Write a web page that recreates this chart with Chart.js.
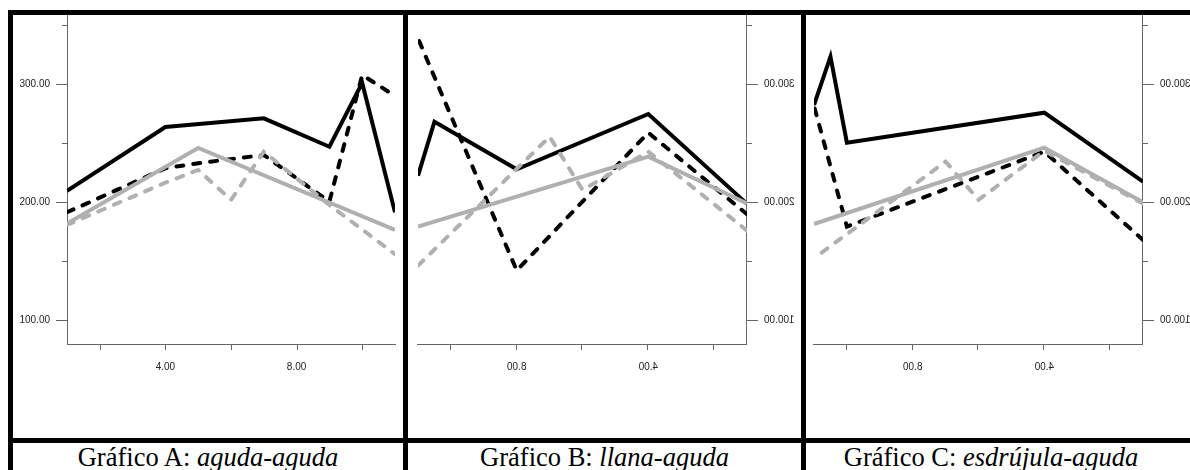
<!DOCTYPE html>
<html lang="es">

<head>
    <meta charset="UTF-8">
    <title>Gráficos A, B, C</title>
    <style>
        body { margin: 0; width: 1190px; height: 470px; overflow: hidden; background: #fff; position: relative; }
        .bar { position: absolute; background: #000; }
        canvas { position: absolute; top: 15px; }
        .flip { transform: scaleX(-1); }
        .cap { position: absolute; top: 444px; font-family: "Liberation Serif", "Times New Roman", serif; font-size: 26.5px; line-height: 26px; text-align: center; white-space: nowrap; color: #000; }
    </style>
</head>

<body>
    <div class="bar" style="left:8px; top:10px; width:1182px; height:5px;"></div>
    <div class="bar" style="left:8px; top:438px; width:1182px; height:5px;"></div>
    <div class="bar" style="left:8px; top:10px; width:5px; height:460px;"></div>
    <div class="bar" style="left:403px; top:10px; width:5px; height:460px;"></div>
    <div class="bar" style="left:801px; top:10px; width:5px; height:460px;"></div>

    <canvas id="chartA" width="390" height="423" style="left:13px;"></canvas>
    <canvas id="chartB" class="flip" width="393" height="423" style="left:408px;"></canvas>
    <canvas id="chartC" class="flip" width="391" height="423" style="left:806px;"></canvas>

    <div class="cap" style="left:13px; width:390px;">Gráfico A: <i>aguda-aguda</i></div>
    <div class="cap" style="left:408px; width:393px;">Gráfico B: <i>llana-aguda</i></div>
    <div class="cap" style="left:806px; width:370px;">Gráfico C: <i>esdrújula-aguda</i></div>

    <script src="https://cdn.jsdelivr.net/npm/chart.js"></script>
    <script type="text/javascript">
        // tick positions and labels
        const xTicks = [2, 4, 6, 8, 10];
        const xLabels = [4, 8];
        const yTicks = [100, 150, 200, 250, 300, 350];
        const yLabels = [100, 200, 300];

        // Gráfico A: aguda-aguda
        const aBlackX = [1, 4, 7, 9, 10, 11];
        const aBlack = [209.6, 263.7, 271, 247, 301, 191.5];
        const aBlackDashX = [1, 4, 5, 7, 9, 10, 11];
        const aBlackDash = [191.5, 228.8, 233, 240, 200.5, 307.7, 290];
        const aGrayX = [1, 5, 11];
        const aGray = [182, 246, 176.6];
        const aGrayDashX = [1, 4, 5, 6, 7, 9, 11];
        const aGrayDash = [180.8, 216.6, 227.3, 202, 242.8, 197.7, 156];

        // Gráfico B: llana-aguda
        const bBlackX = [1, 4, 8, 10.5, 11];
        const bBlack = [198.6, 274.7, 227.9, 268.2, 222.5];
        const bBlackDashX = [1, 4, 8, 11];
        const bBlackDash = [189.8, 258.9, 142.2, 338.7];
        const bGrayX = [1, 4, 11];
        const bGray = [199, 238.6, 179.4];
        const bGrayDashX = [1, 4, 6, 7, 11];
        const bGrayDash = [176, 242.8, 210.4, 255.5, 146.4];

        // Gráfico C: esdrújula-aguda
        const cBlackX = [1, 4, 10, 10.5, 11];
        const cBlack = [217.4, 275.8, 250.4, 323.2, 282.3];
        const cBlackDashX = [1, 4, 10, 11];
        const cBlackDash = [168.1, 242.8, 179.4, 281.5];
        const cGrayX = [1, 4, 11];
        const cGray = [200, 246.2, 181.6];
        const cGrayDashX = [1, 4, 6, 7, 11];
        const cGrayDash = [199, 243.5, 202, 234.4, 152.6];

        const gray = '#b0b0b0';
        const axisColor = '#666';

        function pts(xs, ys) {
            return xs.map((x, i) => ({ x: x, y: ys[i] }));
        }

        function line(xs, ys, color, dashed) {
            return {
                data: pts(xs, ys),
                borderColor: color,
                borderWidth: 4,
                borderDash: dashed ? [7, 10] : [],
                borderCapStyle: dashed ? 'round' : 'butt',
                borderJoinStyle: 'miter',
                pointRadius: 0,
                tension: 0,
                fill: false
            };
        }

        // short tick marks, longer on labelled y values
        const tickMarks = {
            id: 'tickMarks',
            afterDraw(chart) {
                const ctx = chart.ctx;
                const x = chart.scales.x;
                const y = chart.scales.y;
                ctx.save();
                ctx.strokeStyle = axisColor;
                ctx.lineWidth = 1;
                ctx.beginPath();
                x.ticks.forEach(t => {
                    const px = Math.round(x.getPixelForValue(t.value)) + 0.5;
                    ctx.moveTo(px, x.top);
                    ctx.lineTo(px, x.top + 6);
                });
                y.ticks.forEach(t => {
                    const py = Math.round(y.getPixelForValue(t.value)) + 0.5;
                    const len = yLabels.includes(t.value) ? 11 : 5;
                    ctx.moveTo(y.right, py);
                    ctx.lineTo(y.right - len, py);
                });
                ctx.stroke();
                ctx.restore();
            }
        };

        function makeChart(id, series, rightPad) {
            const ctx = document.getElementById(id);
            return new Chart(ctx, {
                type: 'line',
                data: {
                    datasets: [
                        line(series[6], series[7], gray, true),
                        line(series[4], series[5], gray, false),
                        line(series[2], series[3], '#000', true),
                        line(series[0], series[1], '#000', false)
                    ]
                },
                options: {
                    responsive: false,
                    animation: false,
                    layout: { autoPadding: false, padding: { left: 0, right: rightPad, top: 0, bottom: 0 } },
                    plugins: { legend: { display: false }, tooltip: { enabled: false } },
                    scales: {
                        x: {
                            type: 'linear',
                            min: 1,
                            max: 11,
                            afterBuildTicks: s => { s.ticks = xTicks.map(v => ({ value: v })); },
                            afterFit: s => { s.height = 94; s.paddingTop = 0; s.paddingBottom = 0; },
                            grid: { display: false, drawTicks: false },
                            border: { display: true, color: axisColor, width: 1 },
                            ticks: {
                                autoSkip: false,
                                maxRotation: 0,
                                padding: 17,
                                color: '#222',
                                font: { family: 'Liberation Sans', size: 10 },
                                callback: v => xLabels.includes(v) ? v.toFixed(2) : ''
                            }
                        },
                        y: {
                            min: 80,
                            max: 358.5,
                            afterBuildTicks: s => { s.ticks = yTicks.map(v => ({ value: v })); },
                            afterFit: s => { s.width = 54; s.paddingTop = 0; s.paddingBottom = 0; },
                            grid: { display: false, drawTicks: false },
                            border: { display: true, color: axisColor, width: 1 },
                            ticks: {
                                autoSkip: false,
                                padding: 17,
                                color: '#222',
                                font: { family: 'Liberation Sans', size: 10 },
                                callback: v => yLabels.includes(v) ? v.toFixed(2) : ''
                            }
                        }
                    }
                },
                plugins: [tickMarks]
            });
        }

        makeChart('chartA', [aBlackX, aBlack, aBlackDashX, aBlackDash, aGrayX, aGray, aGrayDashX, aGrayDash], 8);
        makeChart('chartB', [bBlackX, bBlack, bBlackDashX, bBlackDash, bGrayX, bGray, bGrayDashX, bGrayDash], 10);
        makeChart('chartC', [cBlackX, cBlack, cBlackDashX, cBlackDash, cGrayX, cGray, cGrayDashX, cGrayDash], 8);
    </script>
</body>

</html>
